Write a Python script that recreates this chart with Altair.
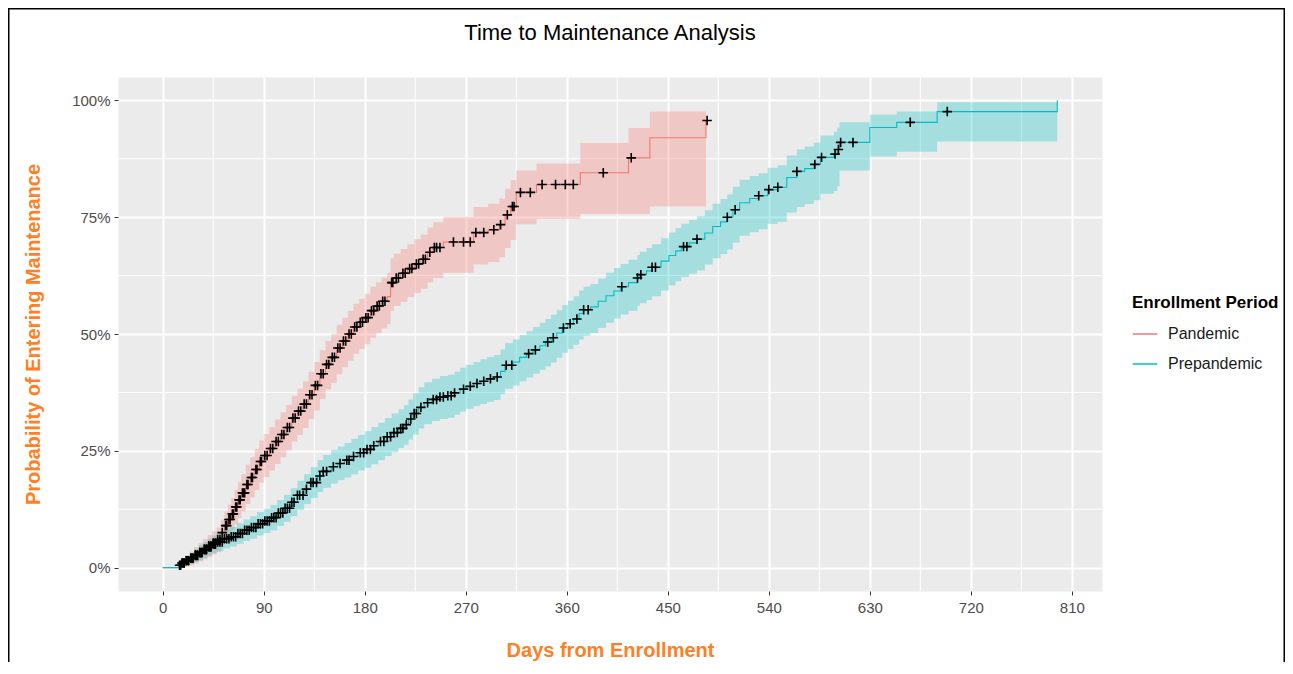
import altair as alt
import pandas as pd

periods = ["Pandemic", "Prepandemic"]
colors = ["#F8766D", "#00BFC4"]

# ---- Pandemic Kaplan-Meier cumulative incidence (day, %, lower CI, upper CI)
pan_day = [0, 14, 17, 20, 24, 28, 32, 36, 40, 44, 48, 52, 55, 58, 61, 64, 67, 70, 74, 78,
           82, 86, 90, 95, 100, 105, 110, 115, 120, 125, 130, 135, 140, 145, 150, 155, 160,
           165, 170, 175, 180, 185, 190, 195, 200, 203, 206, 212, 218, 224, 230, 236, 241,
           250, 277, 290, 300, 305, 310, 315, 333, 372, 415, 434, 484]
pan_pct = [0, 0.5, 1.0, 1.5, 2.0, 2.7, 3.3, 4.0, 4.7, 5.3, 6.0, 7.5, 9.0, 10.3, 11.5, 13.0,
           14.5, 16.0, 17.8, 19.3, 21.0, 22.7, 24.0, 25.5, 27.0, 28.5, 30.0, 32.0, 33.5, 35.0,
           37.0, 39.0, 41.5, 43.5, 45.0, 47.0, 48.5, 50.0, 51.5, 52.5, 53.5, 55.0, 56.0, 57.0,
           58.0, 61.0, 62.0, 63.0, 64.0, 65.0, 66.0, 67.5, 68.5, 69.7, 71.7, 72.3, 73.4, 75.5,
           77.3, 80.3, 82.0, 84.5, 87.7, 92.0, 95.7]
pan_lo = [0, 0, 0.1, 0.3, 0.5, 0.9, 1.3, 1.8, 2.3, 2.8, 3.3, 4.6, 5.8, 7.0, 8.0, 9.3, 10.6,
          12.0, 13.6, 15.0, 16.6, 18.2, 19.4, 20.8, 22.2, 23.6, 25.1, 27.0, 28.4, 29.9, 31.8,
          33.7, 36.1, 38.1, 39.5, 41.4, 42.9, 44.3, 45.8, 46.8, 47.8, 49.2, 50.2, 51.2, 52.1,
          55.0, 56.0, 56.9, 57.9, 58.8, 59.7, 61.1, 62.0, 63.1, 64.9, 65.4, 66.4, 68.4, 70.1,
          73.5, 74.6, 75.7, 75.7, 77.3, 77.3]
pan_hi = [0, 1.3, 2.0, 2.7, 3.4, 4.4, 5.2, 6.1, 7.0, 7.8, 8.6, 10.3, 12.0, 13.5, 14.9, 16.6,
          18.3, 20.0, 22.0, 23.6, 25.4, 27.2, 28.6, 30.1, 31.7, 33.2, 34.8, 36.8, 38.3, 39.9,
          41.9, 44.0, 46.5, 48.5, 50.0, 52.0, 53.5, 55.0, 56.5, 57.5, 58.6, 60.1, 61.1, 62.1,
          63.1, 66.2, 67.2, 68.2, 69.2, 70.3, 71.3, 72.8, 73.9, 75.1, 77.2, 77.9, 79.0, 81.1,
          82.9, 85.0, 86.5, 90.9, 94.1, 97.6, 99.8]

# ---- Prepandemic
pre_day = [0, 14, 17, 20, 24, 28, 32, 36, 40, 44, 48, 54, 60, 66, 72, 78, 84, 90, 96, 102,
           108, 114, 120, 126, 132, 138, 143, 150, 156, 162, 168, 174, 180, 186, 192, 198,
           204, 210, 215, 219, 223, 228, 233, 240, 247, 254, 260, 265, 270, 277, 283, 289,
           295, 301, 305, 312, 318, 324, 330, 336, 341, 346, 351, 356, 361, 366, 371, 375,
           381, 388, 395, 402, 408, 415, 423, 425, 431, 436, 444, 451, 457, 462, 469, 476,
           483, 490, 497, 503, 508, 514, 523, 531, 539, 548, 556, 565, 572, 580, 586, 598,
           601, 603, 630, 654, 690, 797]
pre_pct = [0, 0.5, 1.0, 1.5, 2.0, 2.6, 3.2, 3.8, 4.4, 5.0, 5.5, 6.2, 6.6, 7.3, 8.0, 8.6, 9.4,
           10.0, 10.7, 11.7, 12.7, 14.0, 15.5, 16.8, 18.2, 19.6, 20.6, 21.6, 22.3, 23.0, 23.8,
           24.6, 25.3, 26.1, 27.0, 28.0, 28.9, 29.8, 30.6, 31.8, 33.0, 34.3, 35.3, 36.0, 36.5,
           36.8, 37.4, 38.2, 38.8, 39.4, 39.9, 40.4, 40.8, 42.0, 43.3, 44.0, 45.0, 45.8, 46.6,
           47.5, 48.3, 49.2, 50.2, 51.3, 52.2, 53.2, 54.4, 55.2, 55.8, 57.0, 58.2, 59.2, 60.1,
           61.0, 62.0, 62.7, 63.5, 64.3, 65.6, 66.8, 67.8, 68.7, 69.5, 70.3, 71.6, 73.0, 74.0,
           75.0, 76.6, 78.1, 79.0, 79.6, 80.9, 81.4, 83.5, 84.8, 85.4, 86.3, 87.8, 88.5, 89.5,
           91.0, 94.2, 95.3, 97.6, 100.0]
pre_lo = [0, 0, 0.2, 0.5, 0.8, 1.2, 1.6, 2.1, 2.6, 3.1, 3.5, 4.1, 4.5, 5.1, 5.7, 6.2, 6.9,
          7.4, 8.0, 8.9, 9.8, 11.0, 12.4, 13.6, 14.9, 16.2, 17.1, 18.0, 18.7, 19.3, 20.0, 20.8,
          21.4, 22.1, 23.0, 23.9, 24.7, 25.6, 26.3, 27.4, 28.5, 29.8, 30.7, 31.4, 31.8, 32.1,
          32.7, 33.4, 34.0, 34.6, 35.0, 35.5, 35.9, 37.1, 38.3, 39.0, 39.9, 40.7, 41.5, 42.3,
          43.1, 43.9, 44.9, 46.0, 46.8, 47.7, 48.8, 49.6, 50.2, 51.3, 52.4, 53.3, 54.2, 55.0,
          56.0, 56.6, 57.3, 58.1, 59.3, 60.4, 61.3, 62.2, 62.9, 63.6, 64.9, 66.2, 67.1, 68.1,
          69.6, 71.0, 71.8, 72.4, 73.6, 74.0, 76.0, 77.2, 77.8, 78.6, 80.0, 80.6, 81.6, 85.0,
          88.0, 89.0, 91.2, 91.2]
pre_hi = [0, 1.2, 1.8, 2.5, 3.2, 4.0, 4.8, 5.5, 6.2, 6.9, 7.5, 8.3, 8.7, 9.5, 10.3, 11.0,
          11.9, 12.6, 13.4, 14.5, 15.6, 17.0, 18.6, 20.0, 21.5, 23.0, 24.1, 25.2, 25.9, 26.7,
          27.6, 28.4, 29.2, 30.1, 31.0, 32.0, 33.0, 33.9, 34.8, 36.0, 37.3, 38.6, 39.7, 40.4,
          41.0, 41.3, 41.9, 42.8, 43.4, 44.0, 44.6, 45.1, 45.5, 46.7, 48.0, 48.8, 49.8, 50.6,
          51.5, 52.4, 53.2, 54.1, 55.1, 56.2, 57.1, 58.1, 59.3, 60.1, 60.7, 61.9, 63.1, 64.1,
          65.0, 65.9, 66.9, 67.6, 68.4, 69.2, 70.5, 71.7, 72.7, 73.6, 74.4, 75.2, 76.5, 77.9,
          78.9, 79.9, 81.5, 83.0, 83.8, 84.4, 85.6, 86.1, 88.2, 89.5, 90.1, 91.0, 92.5, 93.3,
          94.2, 95.3, 97.0, 97.6, 99.6, 99.6]

# ---- Censoring marks (day, %)
pan_cens_day = [17, 19, 21, 23, 25, 27, 29, 31, 33, 35, 37, 39, 41, 43, 45, 47, 49, 51, 53, 56,
                57, 59, 60, 62, 63, 65, 66, 68, 69, 71, 72, 73, 75, 76, 79, 80, 83, 84, 87, 88,
                91, 93, 96, 98, 101, 103, 106, 108, 111, 113, 116, 118, 121, 123, 126, 128, 131,
                133, 136, 138, 141, 143, 146, 148, 151, 153, 156, 158, 161, 163, 166, 168, 171,
                173, 176, 178, 181, 183, 186, 188, 191, 193, 196, 198, 204, 205, 208, 210, 214,
                216, 220, 222, 226, 228, 232, 234, 238, 242, 244, 247, 259, 268, 274, 279, 286,
                295, 301, 307, 311.5, 313, 318.7, 327.5, 338, 350, 358.7, 365.8, 392.5, 417.4,
                485]
pan_cens_pct = [1.0, 1.0, 1.5, 1.5, 2.0, 2.0, 2.7, 2.7, 3.3, 3.3, 4.0, 4.0, 4.7, 4.7, 5.3, 5.3,
                6.0, 6.0, 7.5, 9.0, 9.0, 10.3, 10.3, 11.5, 11.5, 13.0, 13.0, 14.5, 14.5, 16.0,
                16.0, 16.0, 17.8, 17.8, 19.3, 19.3, 21.0, 21.0, 22.7, 22.7, 24.0, 24.0, 25.5,
                25.5, 27.0, 27.0, 28.5, 28.5, 30.0, 30.0, 32.0, 32.0, 33.5, 33.5, 35.0, 35.0,
                37.0, 37.0, 39.0, 39.0, 41.5, 41.5, 43.5, 43.5, 45.0, 45.0, 47.0, 47.0, 48.5,
                48.5, 50.0, 50.0, 51.5, 51.5, 52.5, 52.5, 53.5, 53.5, 55.0, 55.0, 56.0, 56.0,
                57.0, 57.0, 61.0, 61.0, 62.0, 62.0, 63.0, 63.0, 64.0, 64.0, 65.0, 65.0, 66.0,
                66.0, 67.5, 68.5, 68.5, 68.5, 69.7, 69.7, 69.7, 71.7, 71.7, 72.3, 73.4, 75.5,
                77.3, 77.3, 80.3, 80.3, 82.0, 82.0, 82.0, 82.0, 84.5, 87.7, 95.7]

pre_cens_day = [15, 16, 18, 19, 21, 22, 23, 25, 26, 27, 29, 30, 31, 33, 34, 35, 37, 38, 39, 41,
                42, 43, 45, 46, 47, 49, 51, 53, 55, 57, 59, 61, 63, 65, 67, 69, 71, 73, 75, 77,
                79, 81, 83, 85, 87, 89, 91, 93, 95, 97, 99, 101, 103, 105, 107, 109, 111, 113,
                115, 117, 120, 122, 125, 128, 132, 134, 137, 140, 143, 146, 152, 158, 164, 166,
                170, 176, 179, 182, 185, 188, 194, 197, 200, 203, 206, 209, 212, 214, 217, 221,
                224, 226, 230, 236, 241, 244, 247, 250, 254, 257, 260, 268, 274, 280, 286, 292,
                298, 306, 311, 326, 332, 343, 348, 357, 363, 369, 375, 379, 409, 423, 426, 436,
                439, 464, 467, 476, 503, 510, 531, 540, 548, 565, 581, 587, 599, 602, 604, 615,
                666, 699]
pre_cens_pct = [0.5, 0.5, 1.0, 1.0, 1.5, 1.5, 1.5, 2.0, 2.0, 2.0, 2.6, 2.6, 2.6, 3.2, 3.2, 3.2,
                3.8, 3.8, 3.8, 4.4, 4.4, 4.4, 5.0, 5.0, 5.0, 5.5, 5.5, 5.5, 6.2, 6.2, 6.2, 6.6,
                6.6, 6.6, 7.3, 7.3, 7.3, 8.0, 8.0, 8.0, 8.6, 8.6, 8.6, 9.4, 9.4, 9.4, 10.0, 10.0,
                10.0, 10.7, 10.7, 10.7, 11.7, 11.7, 11.7, 12.7, 12.7, 12.7, 14.0, 14.0, 15.5,
                15.5, 15.5, 16.8, 18.2, 18.2, 18.2, 19.6, 20.6, 20.6, 21.6, 22.3, 23.0, 23.0,
                23.8, 24.6, 24.6, 25.3, 25.3, 26.1, 27.0, 27.0, 28.0, 28.0, 28.9, 28.9, 29.8,
                29.8, 30.6, 31.8, 33.0, 33.0, 34.3, 35.3, 36.0, 36.0, 36.5, 36.5, 36.8, 36.8,
                37.4, 38.2, 38.8, 39.4, 39.9, 40.4, 40.8, 43.3, 43.3, 45.8, 46.6, 48.3, 49.2,
                51.3, 52.2, 53.2, 55.2, 55.2, 60.1, 62.0, 62.7, 64.3, 64.3, 68.7, 68.7, 70.3,
                75.0, 76.6, 79.6, 80.9, 81.4, 84.8, 86.3, 87.8, 88.5, 89.5, 91.0, 91.0, 95.3,
                97.6]

x_breaks = [0, 90, 180, 270, 360, 450, 540, 630, 720, 810]
x_minor = [45, 135, 225, 315, 405, 495, 585, 675, 765]
y_breaks = [0, 25, 50, 75, 100]
y_minor = [12.5, 37.5, 62.5, 87.5]

# ---- tables
curves = pd.concat([
    pd.DataFrame({"period": periods[0], "day": pan_day, "pct": pan_pct, "lo": pan_lo, "hi": pan_hi}),
    pd.DataFrame({"period": periods[1], "day": pre_day, "pct": pre_pct, "lo": pre_lo, "hi": pre_hi}),
], ignore_index=True)
curves["band_col"] = curves["period"].map(dict(zip(periods, colors)))
cens = pd.concat([
    pd.DataFrame({"period": periods[0], "day": pan_cens_day, "pct": pan_cens_pct}),
    pd.DataFrame({"period": periods[1], "day": pre_cens_day, "pct": pre_cens_pct}),
], ignore_index=True)
minor_x_df = pd.DataFrame({"v": x_minor})
minor_y_df = pd.DataFrame({"v": y_minor})
frame_df = pd.DataFrame({"a": [0]})

FONT = "Liberation Sans"
ORANGE = "#FF7F24"

x_scale = alt.Scale(domain=[-39.85, 836.85], nice=False, zero=False)
y_scale = alt.Scale(domain=[-5, 105], nice=False, zero=False)
color_scale = alt.Scale(domain=periods, range=colors)

x_axis = alt.Axis(values=x_breaks, title="Days from Enrollment", grid=True, gridColor="white",
                  gridWidth=2, domain=False, tickColor="#333333", tickSize=4, tickWidth=1,
                  labelFontSize=15, labelColor="#4D4D4D", labelFont=FONT, labelPadding=5,
                  titleFont=FONT, titleFontSize=20, titleFontWeight="bold", titleColor=ORANGE,
                  titlePadding=25, labelFlush=False)
y_axis = alt.Axis(values=y_breaks, title="Probability of Entering Maintenance", grid=True,
                  gridColor="white", gridWidth=2, domain=False, tickColor="#333333", tickSize=4,
                  tickWidth=1, labelFontSize=15, labelColor="#4D4D4D", labelFont=FONT,
                  labelPadding=4, labelExpr="datum.value + '%'", titleFont=FONT,
                  titleFontSize=20, titleFontWeight="bold", titleColor=ORANGE, titlePadding=28)

X = alt.X("day:Q", scale=x_scale, axis=x_axis)

minor_x = alt.Chart(minor_x_df).mark_rule(color="white", strokeWidth=1).encode(
    x=alt.X("v:Q", scale=x_scale, axis=x_axis))
minor_y = alt.Chart(minor_y_df).mark_rule(color="white", strokeWidth=1).encode(
    y=alt.Y("v:Q", scale=y_scale, axis=y_axis))

band = alt.Chart(curves).mark_area(interpolate="step-after", opacity=0.3).encode(
    x=X,
    y=alt.Y("lo:Q", scale=y_scale, axis=y_axis),
    y2="hi:Q",
    fill=alt.Fill("band_col:N", scale=None),
    detail="period:N",
)

line = alt.Chart(curves).mark_line(interpolate="step-after", strokeWidth=1.1).encode(
    x=X,
    y=alt.Y("pct:Q", scale=y_scale, axis=y_axis),
    color=alt.Color("period:N", scale=color_scale, legend=alt.Legend(
        title="Enrollment Period", orient="none", legendX=1014, legendY=218,
        symbolType="stroke", symbolSize=600, symbolStrokeWidth=1.5, labelOffset=10,
        rowPadding=9, titlePadding=9, padding=0,
        titleFont=FONT, titleFontSize=17, titleFontWeight="bold", titleColor="black",
        labelFont=FONT, labelFontSize=16, labelColor="#1A1A1A")),
)

marks = alt.Chart(cens).mark_point(shape="M-1,0H1M0,-1V1", filled=False, stroke="black",
                                   strokeWidth=1.6, size=90, opacity=1).encode(
    x=X,
    y=alt.Y("pct:Q", scale=y_scale, axis=y_axis),
)

frame = alt.Chart(frame_df).mark_rect(fill="white", fillOpacity=0, stroke="black",
                                      strokeWidth=1.5).encode(
    x=alt.value(-109.25), x2=alt.value(1166.25), y=alt.value(-68.25), y2=alt.value(700))

chart = alt.layer(minor_x, minor_y, band, line, marks, frame).properties(
    width=984,
    height=514,
    background="white",
    title=alt.TitleParams("Time to Maintenance Analysis", font=FONT, fontSize=22,
                          fontWeight="normal", color="black", anchor="middle",
                          baseline="alphabetic", offset=-53.6, frame="group"),
    padding={"left": 110, "top": 69, "right": 183, "bottom": 71},
    autosize=alt.AutoSizeParams(type="none"),
).configure_view(fill="#EBEBEB", stroke="transparent")

chart.save("out.html", embed_options={"renderer": "svg", "actions": False})
